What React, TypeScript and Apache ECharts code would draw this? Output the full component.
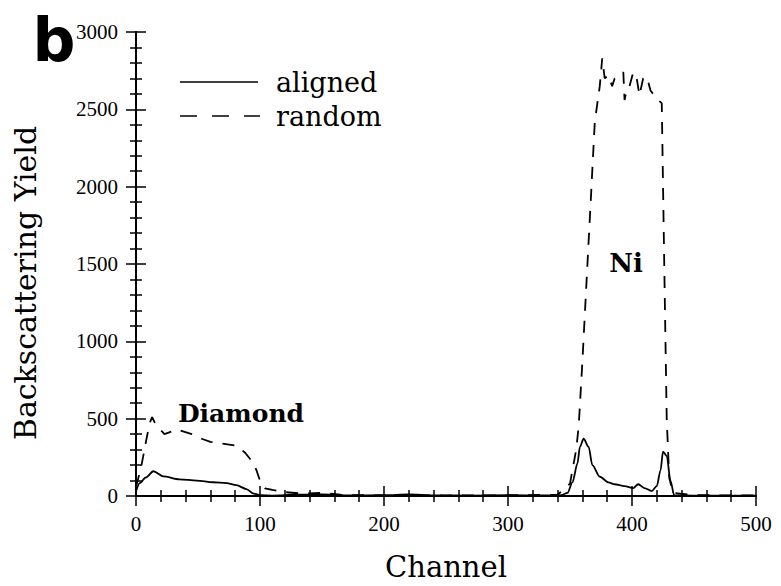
import React, { useEffect, useRef } from "react";
import * as echarts from "echarts";

const xTicks = [0, 100, 200, 300, 400, 500];
const yTicks = [0, 500, 1000, 1500, 2000, 2500, 3000];

const alignedChannel = [0, 3, 8, 14, 22, 35, 49, 62, 73, 81, 89, 95, 100, 110, 130, 150, 170, 200, 220, 240, 270, 300, 330, 343, 348, 352, 356, 358, 361, 365, 368, 374, 381, 386, 394, 401, 405, 410, 416, 420, 423, 425, 428, 431, 434, 450, 500];
const alignedYield = [30, 83, 120, 160, 127, 108, 100, 89, 83, 70, 45, 15, 5, 3, 8, 10, 4, 5, 10, 4, 3, 5, 4, 5, 20, 90, 210, 318, 370, 318, 200, 125, 88, 76, 64, 51, 76, 51, 32, 64, 166, 287, 260, 100, 5, 3, 3];

const randomChannel = [0, 4, 8, 11, 13, 16, 23, 33, 45, 53, 60, 69, 81, 88, 93, 97, 100, 104, 110, 120, 135, 150, 165, 180, 200, 250, 300, 340, 350, 355, 357, 360, 364, 367, 370, 374, 376, 378, 381, 384, 386, 390, 393, 394, 396, 398, 401, 404, 406, 409, 412, 415, 417, 421, 424, 426, 428, 430, 433, 450, 500];
const randomYield = [60, 180, 350, 470, 510, 460, 400, 430, 400, 370, 350, 340, 325, 280, 230, 170, 100, 50, 40, 25, 15, 20, 8, 5, 4, 3, 4, 8, 80, 300, 450, 870, 1490, 1950, 2420, 2650, 2830, 2700, 2720, 2650, 2700, 2720, 2740, 2560, 2640, 2650, 2740, 2690, 2590, 2700, 2710, 2620, 2600, 2560, 2540, 1500, 500, 120, 20, 5, 4];

const seriesNames = ["aligned", "random"];
const annotations = ["Diamond", "Ni"];
const panelLabel = "b";
const yAxisTitle = "Backscattering Yield";
const xAxisTitle = "Channel";

export default function App() {
  const ref = useRef<HTMLDivElement>(null);
  useEffect(() => {
    if (!ref.current) return;
    const chart = echarts.init(ref.current, null, { renderer: "svg" });
    const serif = "DejaVu Serif";
    const tickFont = "Liberation Serif";
    const axisCommon = {
      type: "value" as const,
      axisLine: { show: true, lineStyle: { color: "#000", width: 2 } },
      axisTick: { show: true, inside: true, length: 10, lineStyle: { color: "#000", width: 1.5 } },
      minorTick: { show: true, splitNumber: 5, length: 6, lineStyle: { color: "#000", width: 1.5 } },
      splitLine: { show: false },
    };
    chart.setOption({
      animation: false,
      backgroundColor: "#fff",
      grid: { left: 136, right: 25, top: 32, bottom: 83 },
      xAxis: [
        {
          ...axisCommon,
          min: 0, max: 500, interval: 100,
          position: "bottom",
          axisLabel: {
            color: "#000", fontFamily: tickFont, fontSize: 21, margin: 17,
            formatter: (v: number) => (xTicks.includes(v) ? String(v) : ""),
          },
          name: xAxisTitle,
          nameLocation: "middle",
          nameGap: 56,
          nameTextStyle: { color: "#000", fontFamily: serif, fontSize: 29 },
        },
        {
          ...axisCommon,
          min: 0, max: 500, interval: 100,
          position: "top",
          axisLabel: { show: false },
        },
      ],
      yAxis: [
        {
          ...axisCommon,
          min: 0, max: 3000, interval: 500,
          position: "left",
          axisLabel: {
            color: "#000", fontFamily: tickFont, fontSize: 21, margin: 18,
            formatter: (v: number) => (yTicks.includes(v) ? String(v) : ""),
          },
        },
        {
          ...axisCommon,
          min: 0, max: 3000, interval: 500,
          position: "right",
          axisLabel: { show: false },
        },
      ],
      series: [
        {
          name: seriesNames[0],
          type: "line",
          xAxisIndex: 0, yAxisIndex: 0,
          showSymbol: false,
          smooth: 0.3,
          smoothMonotone: "x",
          lineStyle: { color: "#000", width: 1.8, type: "solid" },
          data: alignedChannel.map((c, i) => [c, alignedYield[i]]),
          z: 3,
        },
        {
          name: seriesNames[1],
          type: "line",
          xAxisIndex: 0, yAxisIndex: 0,
          showSymbol: false,
          lineStyle: { color: "#000", width: 1.8, type: [12, 10] },
          data: randomChannel.map((c, i) => [c, randomYield[i]]),
          z: 2,
        },
      ],
      graphic: [
        { type: "text", x: 25, y: 283, rotation: Math.PI / 2, style: { text: yAxisTitle, fontFamily: serif, fontSize: 30, fill: "#000", verticalAlign: "middle", align: "center" } },
        { type: "line", shape: { x1: 180, y1: 82, x2: 258, y2: 82 }, style: { stroke: "#000", lineWidth: 1.5 } },
        { type: "text", x: 276, y: 82, style: { text: seriesNames[0], fontFamily: serif, fontSize: 27, fill: "#000", verticalAlign: "middle", align: "left" } },
        { type: "line", shape: { x1: 180, y1: 116, x2: 260, y2: 116 }, style: { stroke: "#000", lineWidth: 1.5, lineDash: [17, 15] } },
        { type: "text", x: 276, y: 116, style: { text: seriesNames[1], fontFamily: serif, fontSize: 27, fill: "#000", verticalAlign: "middle", align: "left" } },
        { type: "text", x: 241, y: 413, style: { text: annotations[0], fontFamily: serif, fontWeight: "bold", fontSize: 25, fill: "#000", verticalAlign: "middle", align: "center" } },
        { type: "text", x: 626, y: 263, style: { text: annotations[1], fontFamily: serif, fontWeight: "bold", fontSize: 26, fill: "#000", verticalAlign: "middle", align: "center" } },
        { type: "text", x: 54, y: 40, style: { text: panelLabel, fontFamily: "DejaVu Sans", fontWeight: "bold", fontSize: 60, fill: "#000", verticalAlign: "middle", align: "center" } },
      ],
    });
    return () => chart.dispose();
  }, []);
  return <div ref={ref} style={{ position: "fixed", left: 0, top: 0, width: 781, height: 586 }} />;
}
